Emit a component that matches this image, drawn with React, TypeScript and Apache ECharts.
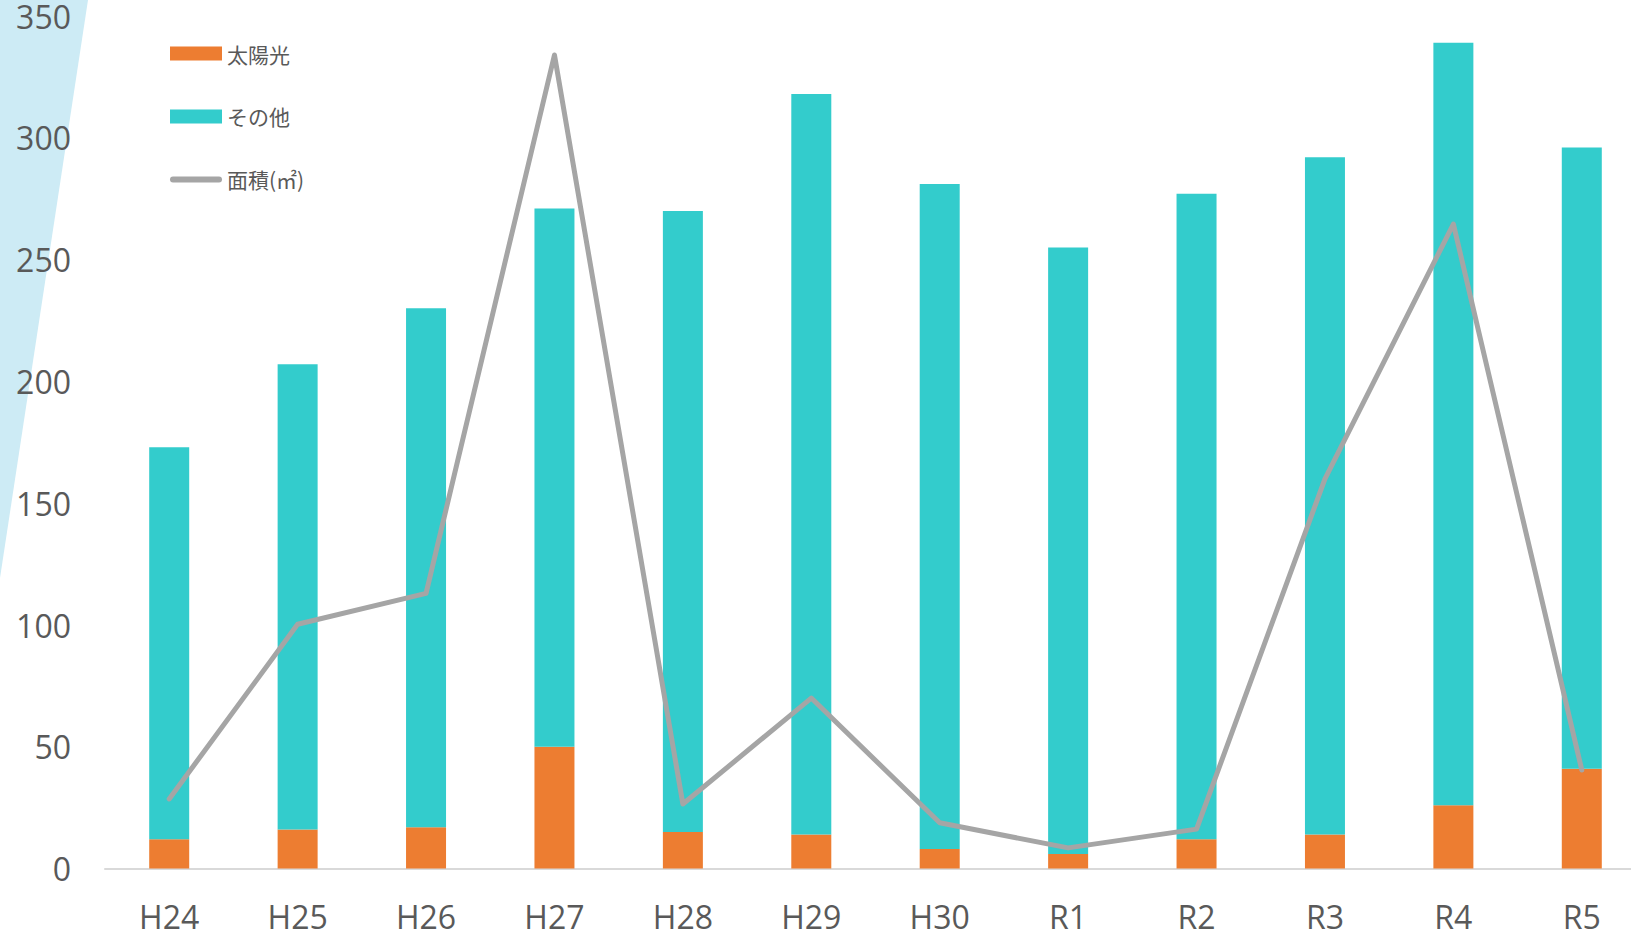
import React, { useEffect, useRef } from "react";
import * as echarts from "echarts";

// Fiscal years (Heisei / Reiwa)
const categories = ["H24", "H25", "H26", "H27", "H28", "H29", "H30", "R1", "R2", "R3", "R4", "R5"];
// Number of installations: solar
const solar = [12, 16, 17, 50, 15, 14, 8, 6, 12, 14, 26, 41];
// Number of installations: other
const other = [161, 191, 213, 221, 255, 304, 273, 249, 265, 278, 313, 255];
// Area (m²)
const area = [28.6, 100.3, 113, 334, 26.5, 70, 18.8, 8.5, 16.2, 160, 264.6, 40.5];
// Value axis ticks
const yMax = 350;
const yInterval = 50;

const FONT = "'Open Sans', 'Noto Sans CJK JP', sans-serif";
const JP_FONT = "'Noto Sans CJK JP', sans-serif";

// Thick rounded bar used as the legend icon of the area line
const LINE_ICON = "path://M3,0 L49,0 A3,3 0 0 1 49,6 L3,6 A3,3 0 0 1 3,0 Z";

export default function App() {
  const ref = useRef<HTMLDivElement>(null);

  useEffect(() => {
    if (!ref.current) return;
    const chart = echarts.init(ref.current, null, { renderer: "svg" });
    chart.setOption({
      animation: false,
      backgroundColor: "#ffffff",
      graphic: [
        {
          type: "polygon",
          z: -10,
          silent: true,
          shape: { points: [[0, 0], [88, 0], [0, 578]] },
          style: { fill: "#cdebf5" },
        },
      ],
      legend: {
        orient: "vertical",
        left: 165,
        top: 38,
        itemWidth: 52,
        itemHeight: 14,
        itemGap: 42,
        textStyle: { fontFamily: JP_FONT, fontSize: 21, color: "#595959" },
        data: [
          { name: "太陽光", icon: "rect" },
          { name: "その他", icon: "rect" },
          { name: "面積(㎡)", icon: LINE_ICON, itemStyle: { color: "#A5A5A5" } },
        ],
      },
      // the plot runs a little past the right edge of the visible area
      grid: { left: 105, right: 14, top: 15.6, bottom: 64.4, containLabel: false },
      xAxis: {
        type: "category",
        data: categories,
        axisTick: { show: false },
        axisLine: { lineStyle: { color: "#d9d9d9", width: 2 } },
        axisLabel: { color: "#595959", fontSize: 32, lineHeight: 28, fontFamily: FONT, margin: 34 },
      },
      yAxis: {
        type: "value",
        min: 0,
        max: yMax,
        interval: yInterval,
        splitLine: { show: false },
        axisLine: { show: false },
        axisTick: { show: false },
        axisLabel: { color: "#595959", fontSize: 32, lineHeight: 28, fontFamily: FONT, margin: 34 },
      },
      series: [
        {
          name: "太陽光",
          type: "bar",
          stack: "count",
          barWidth: 40,
          data: solar,
          itemStyle: { color: "#ED7D31" },
        },
        {
          name: "その他",
          type: "bar",
          stack: "count",
          barWidth: 40,
          data: other,
          itemStyle: { color: "#33CCCC" },
        },
        {
          name: "面積(㎡)",
          type: "line",
          data: area,
          symbol: "none",
          z: 5,
          lineStyle: { color: "#A5A5A5", width: 5, cap: "round", join: "round" },
          itemStyle: { color: "#A5A5A5" },
        },
      ],
    });
    return () => chart.dispose();
  }, []);

  return (
    <div
      style={{
        position: "absolute",
        left: 0,
        top: 0,
        width: 1631,
        height: 933,
        overflow: "hidden",
        background: "#ffffff",
      }}
    >
      <div ref={ref} style={{ width: 1660, height: 933 }} />
    </div>
  );
}
